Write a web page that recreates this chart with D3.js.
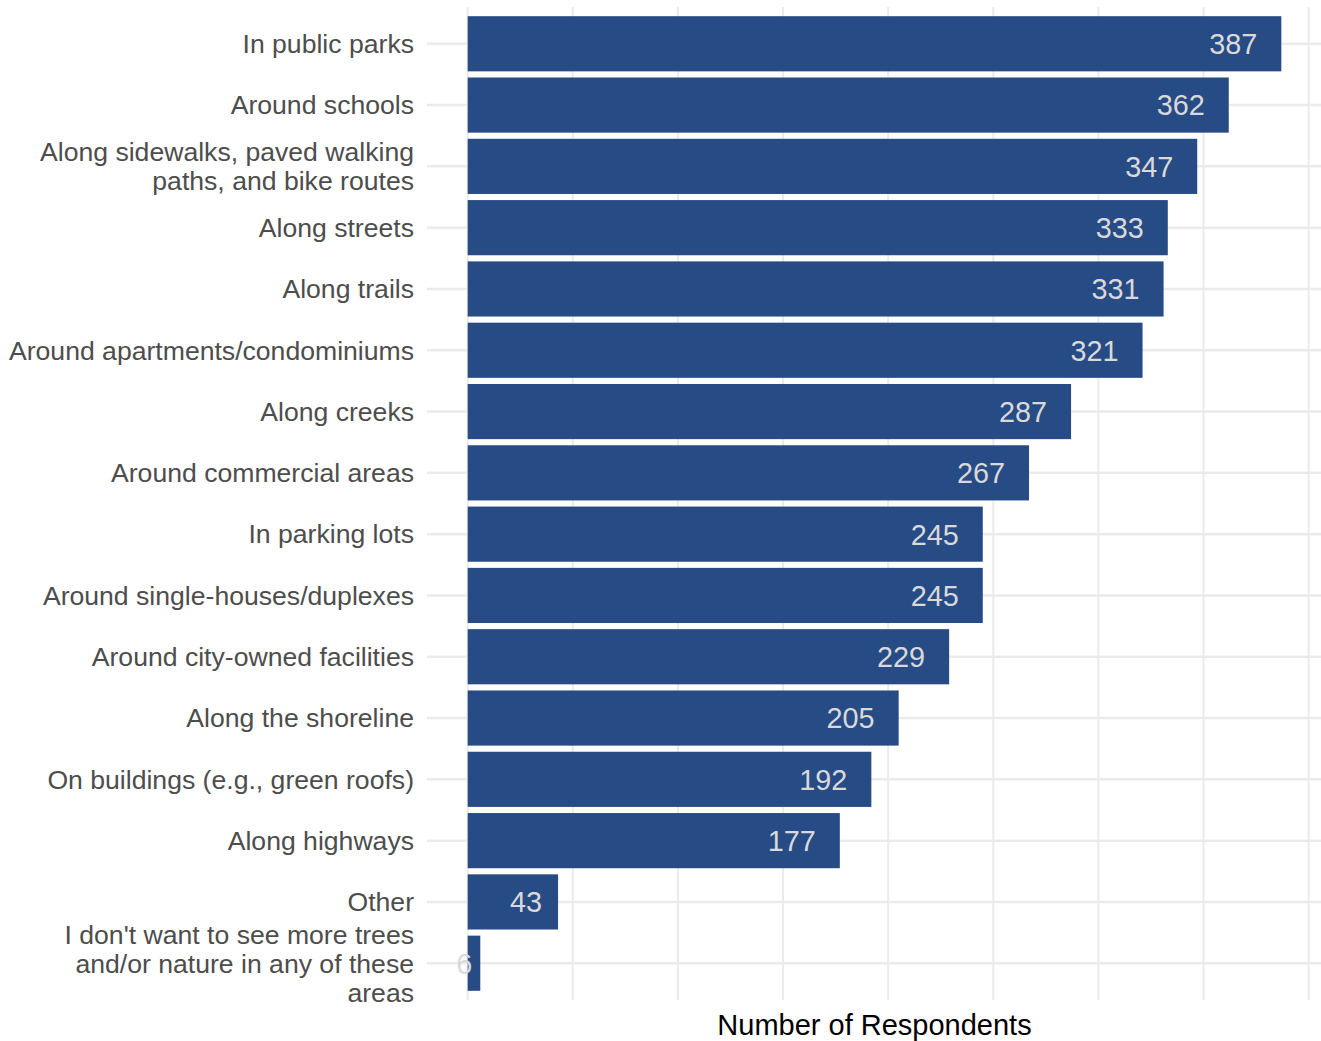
<!DOCTYPE html>
<html>
<head>
<meta charset="utf-8">
<script src="https://cdn.jsdelivr.net/npm/d3@7"></script>
<style>
  body { margin: 0; background: #fff; }
  svg { font-family: "Liberation Sans", Arial, sans-serif; }
</style>
</head>
<body>
<svg width="1321" height="1041"></svg>
<script>
const categories = [
  "In public parks",
  "Around schools",
  "Along sidewalks, paved walking\npaths, and bike routes",
  "Along streets",
  "Along trails",
  "Around apartments/condominiums",
  "Along creeks",
  "Around commercial areas",
  "In parking lots",
  "Around single-houses/duplexes",
  "Around city-owned facilities",
  "Along the shoreline",
  "On buildings (e.g., green roofs)",
  "Along highways",
  "Other",
  "I don't want to see more trees\nand/or nature in any of these\nareas"
];
const counts = [387, 362, 347, 333, 331, 321, 287, 267, 245, 245, 229, 205, 192, 177, 43, 6];
const gridValues = d3.range(0, 401, 50);

const svg = d3.select("svg");

const panelLeft = 427, panelRight = 1322, panelTop = 7, panelBottom = 1000;

// ggplot-style expansion: 5% of data range on each side
const maxV = d3.max(counts);
const x = d3.scaleLinear()
  .domain([-0.05 * maxV, maxV * 1.05])
  .range([panelLeft, panelRight]);

// discrete expand 0.6 units -> outer padding 0.15 of a step
const y = d3.scaleBand()
  .domain(categories)
  .range([panelTop, panelBottom])
  .paddingInner(0.1)
  .paddingOuter(0.15);

const g = svg.append("g");

// vertical grid
g.selectAll("line.vgrid")
  .data(gridValues)
  .enter().append("line")
    .attr("class", "vgrid")
    .attr("x1", d => x(d)).attr("x2", d => x(d))
    .attr("y1", panelTop).attr("y2", panelBottom)
    .attr("stroke", "#ebebeb")
    .attr("stroke-width", 2);

// horizontal grid at each category
g.selectAll("line.hgrid")
  .data(categories)
  .enter().append("line")
    .attr("class", "hgrid")
    .attr("x1", panelLeft).attr("x2", panelRight)
    .attr("y1", d => y(d) + y.bandwidth() / 2)
    .attr("y2", d => y(d) + y.bandwidth() / 2)
    .attr("stroke", "#ebebeb")
    .attr("stroke-width", 2.5);

// bars
g.selectAll("rect.bar")
  .data(categories)
  .enter().append("rect")
    .attr("class", "bar")
    .attr("x", x(0))
    .attr("y", d => y(d))
    .attr("width", (d, i) => x(counts[i]) - x(0))
    .attr("height", y.bandwidth())
    .attr("fill", "#274b85");

// value labels (hjust = 1.5)
g.selectAll("text.val")
  .data(categories)
  .enter().append("text")
    .attr("class", "val")
    .attr("y", d => y(d) + y.bandwidth() / 2)
    .attr("dy", "0.36em")
    .attr("fill", "#d9d9d9")
    .attr("font-size", 28.8)
    .text((d, i) => counts[i])
    .each(function (d, i) {
      const w = this.getComputedTextLength();
      d3.select(this).attr("x", x(counts[i]) - 1.5 * w);
    });

// category labels
const fs = 26.6, lh = 29;
const lab = g.selectAll("text.cat")
  .data(categories)
  .enter().append("text")
    .attr("class", "cat")
    .attr("text-anchor", "end")
    .attr("fill", "#4d4d4d")
    .attr("font-size", fs)
    .attr("x", 414)
    .attr("y", d => y(d) + y.bandwidth() / 2);

lab.each(function (d) {
  const lines = d.split("\n");
  const t = d3.select(this);
  lines.forEach((ln, k) => {
    t.append("tspan")
      .attr("x", 414)
      .attr("dy", k === 0 ? (0.35 * fs - (lines.length - 1) * lh / 2) : lh)
      .text(ln);
  });
});

// axis title
svg.append("text")
  .attr("x", (panelLeft + panelRight) / 2)
  .attr("y", 1035)
  .attr("text-anchor", "middle")
  .attr("font-size", 29)
  .attr("fill", "#000")
  .text("Number of Respondents");
</script>
</body>
</html>
